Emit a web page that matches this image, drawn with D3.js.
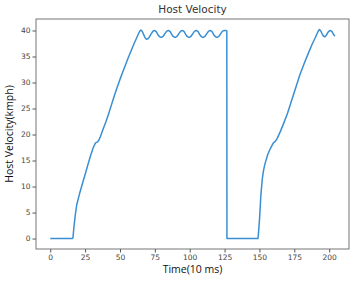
<!DOCTYPE html>
<html>
<head>
<meta charset="utf-8">
<script src="https://cdn.jsdelivr.net/npm/d3@7"></script>
<style>
  body { margin: 0; background: #fff; }
  .tick text { font-family: "DejaVu Sans", sans-serif; font-size: 7.5px; fill: #444; }
  .tick line { stroke: #555; }
  .lbl { font-family: "Open Sans", "Liberation Sans", sans-serif; font-size: 10.5px; fill: #111; }
</style>
</head>
<body>
<div id="chart"></div>
<script>
"use strict";

// sample times (10 ms units) and host velocity in kmph
var time = [0, 16, 16.3, 17, 18, 19, 21, 23, 25, 27, 29, 31, 32.5, 34, 35, 36, 38, 40, 42, 44, 46, 48, 50, 52, 54, 56, 58, 60, 62, 64,
    65, 66, 67, 68, 69, 70, 71, 72, 73, 74,
    75, 76, 77, 78, 79, 80, 81, 82, 83, 84,
    85, 86, 87, 88, 89, 90, 91, 92, 93, 94,
    95, 96, 97, 98, 99, 100, 101, 102, 103, 104,
    105, 106, 107, 108, 109, 110, 111, 112, 113, 114,
    115, 116, 117, 118, 119, 120, 121, 122, 123, 124,
    125, 126, 126.6, 126.7, 149, 150, 151, 152, 153, 154, 156, 158, 160, 161, 162, 163, 165, 167, 170, 173, 176, 179, 182, 185, 188, 190, 192,
    193, 194, 195, 196, 197, 198, 199, 200, 201, 202, 203, 204];
var velocity = [0, 0, 0.2, 2.2, 4.6, 6.5, 8.6, 10.5, 12.3, 14.2, 16, 17.6, 18.4, 18.6, 19, 19.6, 21.1, 22.5, 24.1, 25.8, 27.5, 29.1, 30.6, 32, 33.4, 34.8, 36.1, 37.4, 38.6, 39.8,
    40.1, 39.8, 39.2, 38.6, 38.3, 38.4, 38.7, 39.2, 39.6, 39.95,
    40.0, 39.8, 39.3, 38.9, 38.7, 38.7, 38.9, 39.3, 39.7, 39.95,
    40.0, 39.8, 39.3, 38.9, 38.7, 38.7, 38.9, 39.3, 39.7, 39.95,
    40.0, 39.8, 39.3, 38.9, 38.7, 38.7, 38.9, 39.3, 39.7, 39.95,
    40.0, 39.8, 39.3, 38.9, 38.7, 38.7, 38.9, 39.3, 39.7, 39.95,
    40.0, 39.8, 39.3, 38.9, 38.7, 38.7, 38.9, 39.3, 39.7, 39.95,
    40.0, 40.0, 39.9, 0, 0, 3.5, 8.2, 11.4, 13.2, 14.4, 16.2, 17.4, 18.4, 18.6, 18.9, 19.4, 20.6, 21.9, 24, 26.5, 29, 31.5, 33.6, 35.6, 37.5, 38.6, 39.8,
    40.2, 39.9, 39.3, 38.9, 38.8, 39.1, 39.6, 39.9, 40.0, 39.8, 39.3, 38.9];

var xTicks = [0, 25, 50, 75, 100, 125, 150, 175, 200];
var yTicks = [0, 5, 10, 15, 20, 25, 30, 35, 40];

var margin = {top: 19, right: 10, bottom: 32, left: 36},
    svg_dx = 359,
    svg_dy = 281;

var x = d3.scaleLinear().domain([-10.2, 214.2]).range([margin.left, svg_dx - margin.right]),
    y = d3.scaleLinear().domain([-2.01, 42.21]).range([svg_dy - margin.bottom, margin.top]);

var svg = d3.select("#chart")
        .append("svg")
        .attr("width", svg_dx)
        .attr("height", svg_dy);

var pts = time.map((t, i) => [t, velocity[i]]);

svg.append("path")
    .datum(pts)
    .attr("fill", "none")
    .attr("stroke", "#3a8fd3")
    .attr("stroke-width", 1.5)
    .attr("stroke-linejoin", "round")
    .attr("d", d3.line().x(d => x(d[0])).y(d => y(d[1])));

// axes
var axis_x = d3.axisBottom(x).tickValues(xTicks).tickSize(3.5).tickPadding(2);
var axis_y = d3.axisLeft(y).tickValues(yTicks).tickSize(3.5).tickPadding(2);

svg.append("g")
    .attr("transform", "translate(0," + (svg_dy - margin.bottom) + ")")
    .call(axis_x)
    .call(g => g.select(".domain").remove());

svg.append("g")
    .attr("transform", "translate(" + margin.left + ",0)")
    .call(axis_y)
    .call(g => g.select(".domain").remove());

// frame
svg.append("rect")
    .attr("x", margin.left)
    .attr("y", margin.top)
    .attr("width", svg_dx - margin.right - margin.left)
    .attr("height", svg_dy - margin.bottom - margin.top)
    .attr("fill", "none")
    .attr("stroke", "#666")
    .attr("stroke-width", 0.9);

// labels
svg.append("text")
    .attr("class", "lbl")
    .attr("x", (margin.left + svg_dx - margin.right) / 2)
    .attr("y", 13)
    .attr("text-anchor", "middle")
    .style("font-family", "'DejaVu Sans', sans-serif")
    .style("font-size", "10.5px")
    .style("fill", "#333")
    .text("Host Velocity");

svg.append("text")
    .attr("class", "lbl")
    .attr("x", (margin.left + svg_dx - margin.right) / 2)
    .attr("y", 273)
    .attr("text-anchor", "middle")
    .text("Time(10 ms)");

svg.append("text")
    .attr("class", "lbl")
    .attr("transform", "translate(13," + ((margin.top + svg_dy - margin.bottom) / 2) + ") rotate(-90)")
    .attr("text-anchor", "middle")
    .text("Host Velocity(kmph)");
</script>
</body>
</html>
